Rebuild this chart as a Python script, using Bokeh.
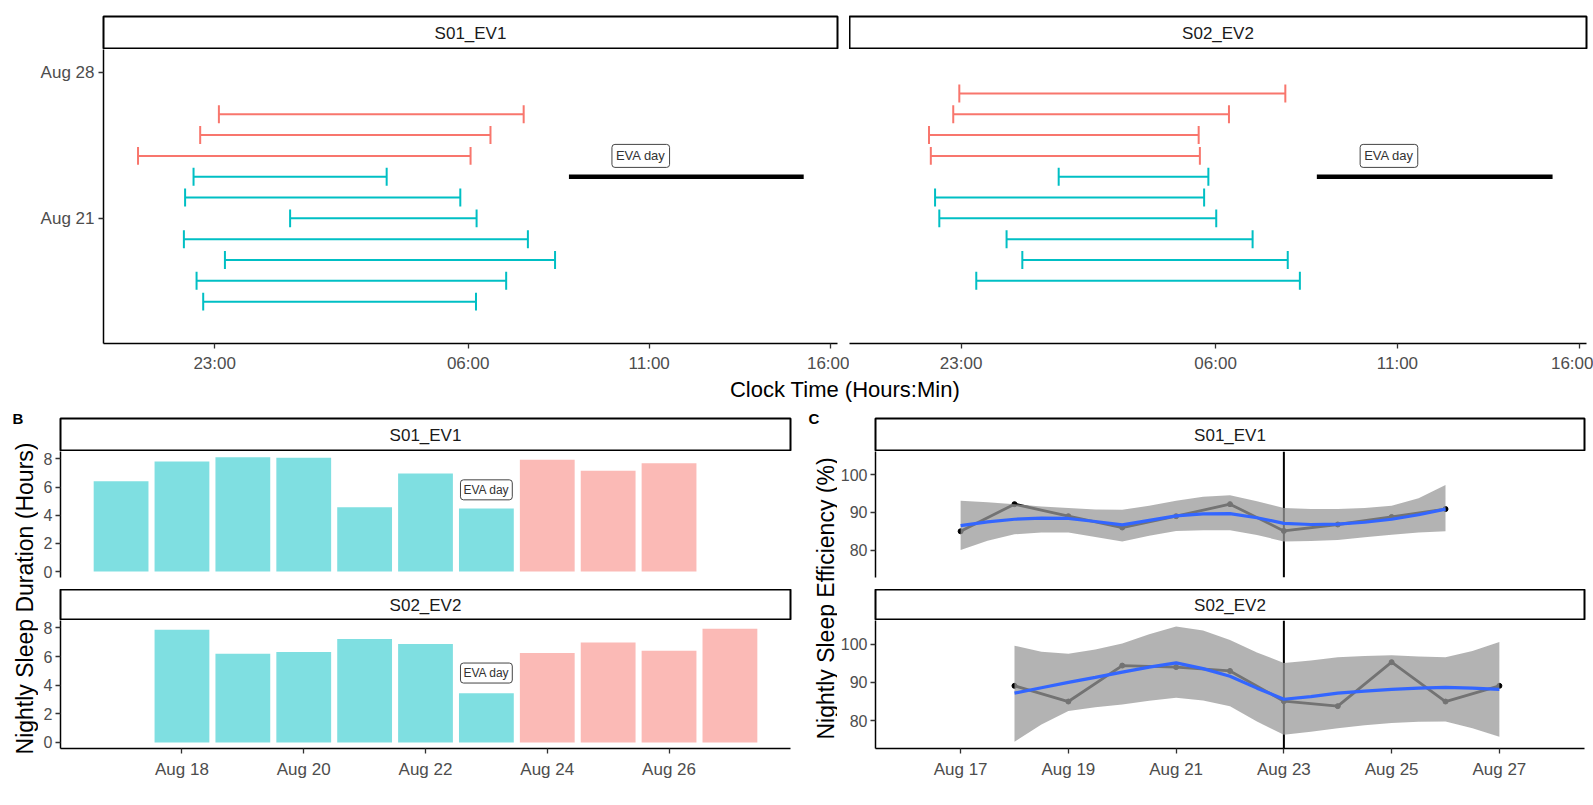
import math
from bokeh.plotting import figure
from bokeh.models import ColumnDataSource, Label, FixedTicker, Span
from bokeh.layouts import row, column
from bokeh.embed import file_html
from bokeh.resources import INLINE

# ---------------- data ----------------
subjects = ["S01_EV1", "S02_EV2"]
phase_colors = {"Pre-EVA": "#00BFC4", "Post-EVA": "#F8766D"}

# Panel A: nightly sleep episodes (night date in August, bedtime, wake time)
a_s01_dates = [17, 18, 19, 20, 21, 22, 23, 24, 25, 26]
a_s01_bed = ["22:41", "22:30", "23:17", "22:09", "01:05", "22:11", "22:25", "20:53", "22:36", "23:07"]
a_s01_wake = ["06:13", "07:03", "08:24", "07:39", "06:14", "05:47", "03:45", "06:04", "06:37", "07:32"]
a_s01_phase = ["Pre-EVA", "Pre-EVA", "Pre-EVA", "Pre-EVA", "Pre-EVA", "Pre-EVA", "Pre-EVA",
               "Post-EVA", "Post-EVA", "Post-EVA"]

a_s02_dates = [18, 19, 20, 21, 22, 23, 24, 25, 26, 27]
a_s02_bed = ["23:25", "00:41", "00:15", "22:24", "22:17", "01:41", "22:10", "22:07", "22:47", "22:57"]
a_s02_wake = ["08:19", "07:59", "07:01", "06:01", "05:41", "05:48", "05:34", "05:32", "06:22", "07:55"]
a_s02_phase = ["Pre-EVA", "Pre-EVA", "Pre-EVA", "Pre-EVA", "Pre-EVA", "Pre-EVA",
               "Post-EVA", "Post-EVA", "Post-EVA", "Post-EVA"]

eva_date = 23
eva_start = "08:47"
eva_end = "15:16"
eva_label_time = "10:46"
eva_label_date = 24

a_x_tick_labels = ["23:00", "06:00", "11:00", "16:00"]
a_y_tick_labels = ["Aug 21", "Aug 28"]

# Panel B: nightly sleep duration (hours)
b_s01_dates = [17, 18, 19, 20, 21, 22, 23, 24, 25, 26]
b_s01_hours = [6.41, 7.81, 8.12, 8.07, 4.57, 6.96, 4.47, 7.93, 7.15, 7.69]
b_s01_phase = a_s01_phase
b_s02_dates = [18, 19, 20, 21, 22, 23, 24, 25, 26, 27]
b_s02_hours = [7.88, 6.20, 6.32, 7.23, 6.87, 3.44, 6.25, 6.99, 6.40, 7.95]
b_s02_phase = a_s02_phase
b_eva_label_y = [5.8, 4.85]
b_x_tick_labels = ["Aug 18", "Aug 20", "Aug 22", "Aug 24", "Aug 26"]
b_y_ticks = [0, 2, 4, 6, 8]

# Panel C: nightly sleep efficiency (%)
c_s01_dates = [17, 18, 19, 20, 21, 22, 23, 24, 25, 26]
c_s01_eff = [85.0, 92.2, 89.0, 86.0, 89.0, 92.2, 85.1, 86.8, 88.8, 90.9]
c_s02_dates = [18, 19, 20, 21, 22, 23, 24, 25, 26, 27]
c_s02_eff = [89.1, 85.0, 94.4, 94.0, 93.0, 85.1, 83.8, 95.3, 85.0, 89.1]

c_s01_fit_x = [17, 17.5, 18, 18.5, 19, 19.5, 20, 20.5, 21, 21.5, 22, 22.5, 23, 23.5, 24, 24.5, 25, 25.5, 26]
c_s01_fit = [86.5, 87.5, 88.2, 88.5, 88.4, 87.6, 86.7, 87.9, 89.1, 89.6, 89.7, 88.6, 87.1, 86.8, 86.9, 87.4, 88.2, 89.4, 90.9]
c_s01_hi = [93.1, 92.7, 92.2, 91.6, 91.2, 90.8, 90.7, 91.8, 93.1, 94.2, 94.6, 93.0, 91.2, 90.9, 90.9, 91.2, 91.8, 93.8, 97.3]
c_s01_lo = [80.0, 82.5, 84.2, 84.7, 84.7, 83.5, 82.3, 83.8, 85.1, 85.3, 85.3, 84.0, 82.3, 82.4, 82.7, 83.4, 84.1, 84.7, 85.0]

c_s02_fit_x = [18, 18.5, 19, 19.5, 20, 20.5, 21, 21.5, 22, 22.5, 23, 23.5, 24, 24.5, 25, 25.5, 26, 26.5, 27]
c_s02_fit = [87.2, 88.6, 90.0, 91.3, 92.7, 94.0, 95.1, 93.6, 91.6, 88.5, 85.6, 86.3, 87.2, 87.7, 88.2, 88.5, 88.7, 88.5, 88.2]
c_s02_hi = [99.6, 98.0, 97.5, 98.6, 100.2, 102.6, 104.6, 103.6, 101.1, 97.8, 95.1, 95.7, 96.6, 96.9, 97.1, 96.8, 96.6, 98.2, 100.6]
c_s02_lo = [74.5, 79.0, 82.5, 83.5, 84.2, 85.2, 86.0, 85.3, 83.8, 79.8, 76.3, 77.1, 78.0, 78.8, 79.4, 79.7, 79.8, 78.0, 75.8]
c_x_tick_labels = ["Aug 17", "Aug 19", "Aug 21", "Aug 23", "Aug 25", "Aug 27"]
c_y_ticks = [80, 90, 100]

# ---------------- styling / layout constants ----------------
FONT = "Liberation Sans"
TICK_COLOR = "#4D4D4D"
A_XR = (-4.07, 16.2)
A_YR = (14.99, 29.11)
B_XR = (16.005, 27.995)
B_YR = (-0.42, 8.52)
C_XR = (15.42, 28.58)
C_YR = (72.72, 106.19)


def hrs(s):
    h, m = s.split(":")
    v = int(h) + int(m) / 60.0
    return v - 24 if v >= 18 else v


def day_of(label):
    return int(label.split()[1])


def base_fig(width, height, xr, yr, bl, br, bt, bb, xaxis=True, yaxis=True):
    f = figure(width=width, height=height, x_range=xr, y_range=yr,
               toolbar_location=None, output_backend="svg", title=None,
               x_axis_location="below" if xaxis else None,
               y_axis_location="left" if yaxis else None,
               min_border_left=bl, min_border_right=br,
               min_border_top=bt, min_border_bottom=bb)
    f.grid.visible = False
    f.outline_line_color = None
    f.background_fill_color = "white"
    f.border_fill_color = "white"
    return f


def style_axes(f, size):
    for ax in f.axis:
        ax.axis_line_color = "black"
        ax.axis_line_width = 1.5
        ax.major_tick_line_color = "#333333"
        ax.major_tick_line_width = 1.3
        ax.major_tick_out = 5
        ax.major_tick_in = 0
        ax.minor_tick_line_color = None
        ax.major_label_text_font = FONT
        ax.major_label_text_font_size = f"{size}px"
        ax.major_label_text_color = TICK_COLOR
        ax.major_label_standoff = 4


def strip(text, width, height, bl, br, bt, bb):
    f = base_fig(width, height, (0, 1), (0, 1), bl, br, bt, bb, False, False)
    f.outline_line_color = "black"
    f.outline_line_width = 2
    f.add_layout(Label(x=0.5, y=0.5, text=text, text_align="center", text_baseline="middle",
                       text_font=FONT, text_font_size="17px", text_color="#1A1A1A"))
    return f


def eva_label(x, y, size, pad):
    return Label(x=x, y=y, text="EVA day", text_align="center", text_baseline="middle",
                 text_font=FONT, text_font_size=f"{size}px", text_color="#333333",
                 background_fill_color="white", border_line_color="#444444",
                 border_line_width=1, padding=pad, border_radius=3)


# ---------------- Panel A ----------------
def panel_a(dates, beds, wakes, phases, width, bl, br, show_y):
    f = base_fig(width, 326, A_XR, A_YR, bl, br, 0, 30, True, show_y)
    x0 = [hrs(b) for b in beds]
    x1 = [hrs(w) for w in wakes]
    cols = [phase_colors[p] for p in phases]
    src = ColumnDataSource(dict(x0=x0, x1=x1, y=dates,
                                ylo=[d - 0.43 for d in dates], yhi=[d + 0.43 for d in dates],
                                color=cols))
    f.segment(x0="x0", y0="y", x1="x1", y1="y", line_color="color", line_width=2, source=src)
    f.segment(x0="x0", y0="ylo", x1="x0", y1="yhi", line_color="color", line_width=2, source=src)
    f.segment(x0="x1", y0="ylo", x1="x1", y1="yhi", line_color="color", line_width=2, source=src)
    f.segment(x0=[hrs(eva_start)], y0=[eva_date], x1=[hrs(eva_end)], y1=[eva_date],
              line_color="black", line_width=4.5)
    f.add_layout(eva_label(hrs(eva_label_time), eva_label_date, 13, 4))
    style_axes(f, 17)
    xt = [int(round(hrs(t))) for t in a_x_tick_labels]
    f.xaxis.ticker = FixedTicker(ticks=xt)
    f.xaxis.major_label_overrides = {k: v for k, v in zip(xt, a_x_tick_labels)}
    f.xaxis.major_label_standoff = 5
    if show_y:
        yt = [day_of(t) for t in a_y_tick_labels]
        f.yaxis.ticker = FixedTicker(ticks=yt)
        f.yaxis.major_label_overrides = {k: v for k, v in zip(yt, a_y_tick_labels)}
    return f


# top section: y 0..403
sA1 = strip(subjects[0], 849, 49, 103, 12, 16, 0)
sA1.add_layout(Label(x=(13 - 103) / 734, y=(49 - 22.5) / 33, text="A", text_align="left",
                     text_baseline="middle", text_font=FONT, text_font_size="15px",
                     text_font_style="bold", text_color="black"))
fA1 = panel_a(a_s01_dates, a_s01_bed, a_s01_wake, a_s01_phase, 849, 103, 12, True)
sA2 = strip(subjects[1], 744, 49, 0, 7, 16, 0)
fA2 = panel_a(a_s02_dates, a_s02_bed, a_s02_wake, a_s02_phase, 744, 0, 7, False)

xt_fig = base_fig(1593, 28, (0, 1593), (0, 28), 0, 0, 0, 0, False, False)
xt_fig.add_layout(Label(x=844.5, y=14, text="Clock Time (Hours:Min)", text_align="center",
                        text_baseline="middle", text_font=FONT, text_font_size="22px",
                        text_color="black"))


# ---------------- Panel B ----------------
def panel_b(dates, hours, phases, height, bb, show_x, label_y):
    f = base_fig(765, height, B_XR, B_YR, 22, 13, 0, bb, show_x, True)
    cols = [phase_colors[p] for p in phases]
    f.vbar(x=dates, top=hours, width=0.9, fill_color=cols, fill_alpha=0.5, line_color=None)
    f.add_layout(eva_label(eva_date, label_y, 12, 3))
    style_axes(f, 17)
    f.yaxis.ticker = FixedTicker(ticks=b_y_ticks)
    f.yaxis.major_label_standoff = 3
    f.yaxis.major_label_text_font_size = "16px"
    if show_x:
        xt = [day_of(t) for t in b_x_tick_labels]
        f.xaxis.ticker = FixedTicker(ticks=xt)
        f.xaxis.major_label_overrides = {k: v for k, v in zip(xt, b_x_tick_labels)}
        f.xaxis.major_label_standoff = 6
    return f


# bottom section: y 403..805 (402 tall)
sB1 = strip(subjects[0], 765, 48, 22, 13, 15, 0)
fB1 = panel_b(b_s01_dates, b_s01_hours, b_s01_phase, 138, 12, False, b_eva_label_y[0])
sB2 = strip(subjects[1], 765, 31, 22, 13, 0, 0)
fB2 = panel_b(b_s02_dates, b_s02_hours, b_s02_phase, 185, 57, True, b_eva_label_y[1])

byt = base_fig(38, 402, (0, 38), (0, 402), 0, 0, 0, 0, False, False)
byt.add_layout(Label(x=24, y=402 - 195, text="Nightly Sleep Duration (Hours)", angle=math.pi / 2,
                     text_align="center", text_baseline="middle", text_font=FONT,
                     text_font_size="23px", text_color="black"))
byt.add_layout(Label(x=12, y=402 - 15, text="B", text_align="left", text_baseline="middle",
                     text_font=FONT, text_font_size="15px", text_font_style="bold",
                     text_color="black"))


# ---------------- Panel C ----------------
def panel_c(dates, eff, fx, fit, lo, hi, height, bb, show_x):
    f = base_fig(756, height, C_XR, C_YR, 36, 9, 0, bb, show_x, True)
    f.add_layout(Span(location=eva_date, dimension="height", line_color="black",
                      line_width=2, level="underlay"))
    f.line(dates, eff, line_color="black", line_width=2.8)
    f.scatter(dates, eff, size=5, fill_color="black", line_color="black")
    f.varea(x=fx, y1=lo, y2=hi, fill_color="#999999", fill_alpha=0.75)
    f.line(fx, fit, line_color="#3366FF", line_width=3.2)
    style_axes(f, 17)
    f.yaxis.ticker = FixedTicker(ticks=c_y_ticks)
    f.yaxis.major_label_standoff = 3
    f.yaxis.major_label_text_font_size = "16px"
    if show_x:
        xt = [day_of(t) for t in c_x_tick_labels]
        f.xaxis.ticker = FixedTicker(ticks=xt)
        f.xaxis.major_label_overrides = {k: v for k, v in zip(xt, c_x_tick_labels)}
        f.xaxis.major_label_standoff = 6
    return f


sC1 = strip(subjects[0], 756, 48, 36, 9, 15, 0)
fC1 = panel_c(c_s01_dates, c_s01_eff, c_s01_fit_x, c_s01_fit, c_s01_lo, c_s01_hi, 138, 12, False)
sC2 = strip(subjects[1], 756, 31, 36, 9, 0, 0)
fC2 = panel_c(c_s02_dates, c_s02_eff, c_s02_fit_x, c_s02_fit, c_s02_lo, c_s02_hi, 185, 57, True)

cyt = base_fig(34, 402, (0, 34), (0, 402), 0, 0, 0, 0, False, False)
cyt.add_layout(Label(x=22, y=402 - 195, text="Nightly Sleep Efficiency (%)", angle=math.pi / 2,
                     text_align="center", text_baseline="middle", text_font=FONT,
                     text_font_size="23px", text_color="black"))
cyt.add_layout(Label(x=5, y=402 - 15, text="C", text_align="left", text_baseline="middle",
                     text_font=FONT, text_font_size="15px", text_font_style="bold",
                     text_color="black"))

# ---------------- layout ----------------
top = column(row(column(sA1, fA1), column(sA2, fA2)), xt_fig)
bottom = row(byt, column(sB1, fB1, sB2, fB2), cyt, column(sC1, fC1, sC2, fC2))
layout = column(top, bottom)

open("out.html", "w").write(file_html(layout, INLINE))
